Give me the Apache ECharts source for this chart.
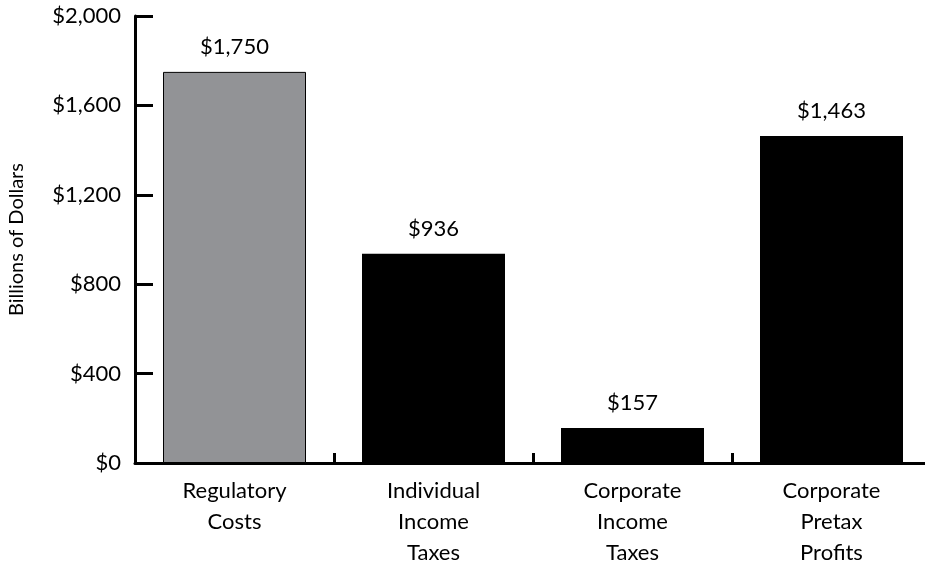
<!DOCTYPE html>
<html>
<head>
<meta charset="utf-8">
<script src="https://cdn.jsdelivr.net/npm/echarts@6/dist/echarts.min.js"></script>
<style>
  html, body { margin: 0; padding: 0; background: #fff; }
  #chart { width: 925px; height: 565px; }
</style>
</head>
<body>
<div id="chart"></div>
<script>
// Categories (multi-line labels) and values in billions of dollars
const categories = ['Regulatory\nCosts', 'Individual\nIncome\nTaxes', 'Corporate\nIncome\nTaxes', 'Corporate\nPretax\nProfits'];
const values = [1750, 936, 157, 1463];
const barColors = ['#929396', '#000000', '#000000', '#000000'];
const yTicks = [0, 400, 800, 1200, 1600, 2000];

const FONT = 'Lato';
const fmt = v => '$' + v.toLocaleString('en-US');

const chart = echarts.init(document.getElementById('chart'), null, { renderer: 'canvas' });
chart.setOption({
  animation: false,
  backgroundColor: '#ffffff',
  textStyle: { fontFamily: FONT, color: '#000' },
  // plot area runs past the right edge so the last category slot is cut off
  grid: { left: 135, width: 796, top: 16, height: 447, containLabel: false, outerBoundsMode: 'none' },
  xAxis: {
    type: 'category',
    data: categories,
    boundaryGap: true,
    axisLine: { lineStyle: { color: '#000', width: 3 } },
    axisTick: { show: true, inside: true, length: 10, alignWithLabel: false, lineStyle: { color: '#000', width: 3 } },
    axisLabel: { color: '#000', fontFamily: FONT, fontSize: 22, lineHeight: 31, margin: 12, interval: 0 }
  },
  yAxis: {
    type: 'value',
    min: yTicks[0],
    max: yTicks[yTicks.length - 1],
    interval: 400,
    name: 'Billions of Dollars',
    nameLocation: 'middle',
    nameGap: 108,
    nameRotate: 90,
    nameTextStyle: { color: '#000', fontFamily: FONT, fontSize: 20 },
    axisLine: { show: true, lineStyle: { color: '#000', width: 3 } },
    axisTick: { show: true, inside: true, length: 18, lineStyle: { color: '#000', width: 3 } },
    splitLine: { show: false },
    axisLabel: { color: '#000', fontFamily: FONT, fontSize: 22, margin: 14, formatter: v => fmt(v) }
  },
  series: [{
    type: 'bar',
    barWidth: 143,
    data: values.map((v, i) => ({
      value: v,
      itemStyle: { color: barColors[i], borderColor: '#000', borderWidth: i === 0 ? 1 : 0 }
    })),
    label: {
      show: true,
      position: 'top',
      distance: 14,
      color: '#000',
      fontFamily: FONT,
      fontSize: 22,
      formatter: p => fmt(p.value)
    }
  }]
});
</script>
</body>
</html>
